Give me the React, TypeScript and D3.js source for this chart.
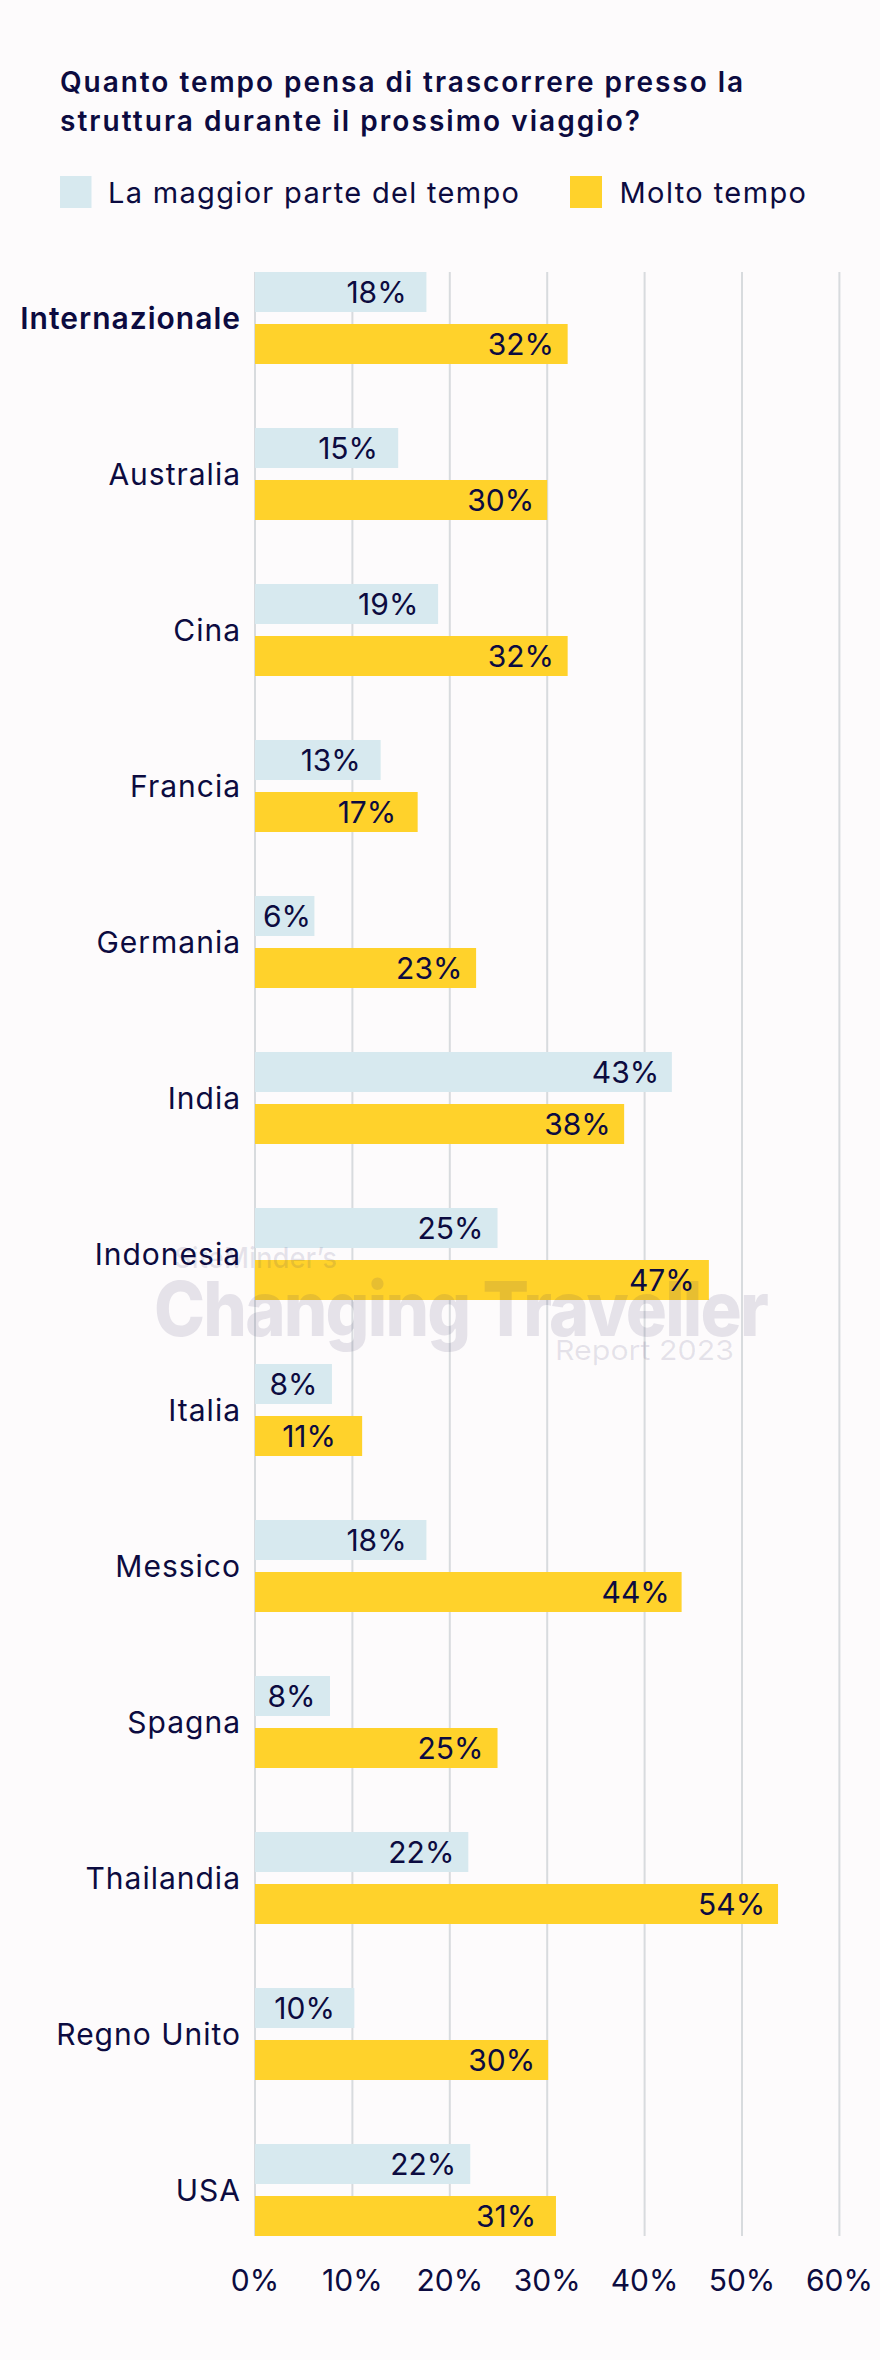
import React, { useEffect } from "react";
import * as d3 from "d3";

const categories = [
  "Internazionale", "Australia", "Cina", "Francia", "Germania", "India", "Indonesia",
  "Italia", "Messico", "Spagna", "Thailandia", "Regno Unito", "USA",
];
const seriesNames = ["La maggior parte del tempo", "Molto tempo"];
const mostOfTheTime = [17.6, 14.7, 18.8, 12.9, 6.1, 42.8, 24.9, 7.9, 17.6, 7.7, 21.9, 10.2, 22.1];
const aLotOfTime = [32.1, 30.0, 32.1, 16.7, 22.7, 37.9, 46.6, 11.0, 43.8, 24.9, 53.7, 30.1, 30.9];
const xTicks = [0, 10, 20, 30, 40, 50, 60];
const titleLines = ["Quanto tempo pensa di trascorrere presso la", "struttura durante il prossimo viaggio?"];
const titleWidths = [683, 580];

const W = 880;
const H = 2360;
const BG = "#fdfbfc";
const NAVY = "#0c0b40";
const BLUE = "#d7e9ef";
const YELLOW = "#ffd22b";
const GRID = "#d8dbde";
const FONT = "Inter, 'Noto Sans', sans-serif";
const colors = [BLUE, YELLOW];

export default function App() {
  useEffect(() => {
    document.body.style.margin = "0";
    document.body.style.background = BG;
  }, []);

  const x = d3.scaleLinear().domain([0, 60]).range([255, 839.4]);
  const y = d3.scaleBand<string>().domain(categories).range([272, 2236]).paddingInner(64 / 156).paddingOuter(0);
  const inner = d3.scaleBand<string>().domain(["0", "1"]).range([0, y.bandwidth()]).paddingInner(12 / 52).paddingOuter(0);
  const series = [mostOfTheTime, aLotOfTime];
  const fs = 30;
  const estWidth = (s: string) => s.replace("%", "").length * 17.5 + 26;

  return (
    <svg width={W} height={H} style={{ display: "block", background: BG }} fontFamily={FONT}>
      <rect x={0} y={0} width={W} height={H} fill={BG} />
      {/* title */}
      {titleLines.map((t, i) => (
        <text key={t} x={60} y={91.5 + i * 39} fontSize={28} fontWeight={600} fill={NAVY}
          textLength={titleWidths[i]} lengthAdjust="spacing">{t}</text>
      ))}
      {/* legend */}
      <rect x={60} y={176} width={31.5} height={32} fill={BLUE} />
      <text x={108} y={203} fontSize={29} fill={NAVY} textLength={411} lengthAdjust="spacing">{seriesNames[0]}</text>
      <rect x={570} y={176} width={32} height={32} fill={YELLOW} />
      <text x={619.5} y={203} fontSize={29} fill={NAVY} textLength={186.5} lengthAdjust="spacing">{seriesNames[1]}</text>

      {/* grid */}
      {xTicks.map((t) => (
        <line key={t} x1={x(t)} x2={x(t)} y1={272} y2={2236} stroke={GRID} strokeWidth={2} />
      ))}

      {/* bars */}
      {categories.map((c, ci) => (
        <g key={c}>
          {series.map((s, si) => (
            <rect key={si} x={x(0)} y={(y(c) as number) + (inner(String(si)) as number)}
              width={x(s[ci]) - x(0)} height={inner.bandwidth()} fill={colors[si]} />
          ))}
        </g>
      ))}

      {/* watermark */}
      <g fill="rgb(60,50,100)" fillOpacity={0.12}>
        <text x={174} y={1268} fontSize={29} fontWeight={500} textLength={163} lengthAdjust="spacingAndGlyphs">SiteMinder’s</text>
        <text x={154} y={1336} fontSize={76} fontWeight={800} textLength={613} lengthAdjust="spacingAndGlyphs" letterSpacing={-2}>Changing Traveller</text>
        <text x={555} y={1360} fontSize={27} fontWeight={400} textLength={179} lengthAdjust="spacingAndGlyphs">Report 2023</text>
      </g>

      {/* value labels */}
      {categories.map((c, ci) => (
        <g key={c + "l"}>
          {series.map((s, si) => {
            const label = `${Math.round(s[ci])}%`;
            const end = x(s[ci]) - 19;
            const start = Math.max(end - estWidth(label), x(0) + 8);
            const cy = (y(c) as number) + (inner(String(si)) as number) + inner.bandwidth() / 2;
            return (
              <text key={si} x={start} y={cy} dy="0.36em" fontSize={fs} fill={NAVY} textAnchor="start">{label}</text>
            );
          })}
        </g>
      ))}

      {/* category labels */}
      {categories.map((c, ci) => (
        <text key={c + "c"} x={241} y={(y(c) as number) + y.bandwidth() / 2} dy="0.36em" textAnchor="end"
          fontSize={fs} fontWeight={ci === 0 ? 600 : 400} fill={NAVY} letterSpacing={1}>{c}</text>
      ))}

      {/* x tick labels */}
      {xTicks.map((t) => (
        <text key={t + "t"} x={x(t)} y={2291} textAnchor="middle" fontSize={fs} fill={NAVY}>{`${t}%`}</text>
      ))}
    </svg>
  );
}
